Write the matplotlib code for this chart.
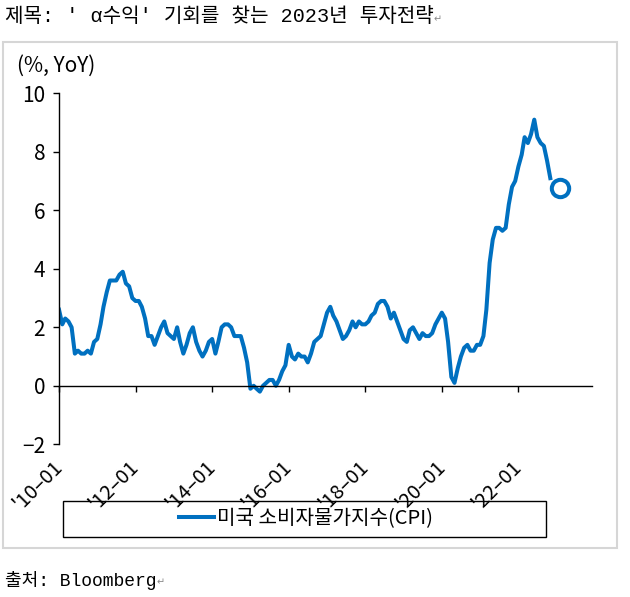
import numpy as np
import pandas as pd
import matplotlib
matplotlib.use("Agg")
import matplotlib.pyplot as plt
import matplotlib.dates as mdates
from matplotlib.patches import Rectangle

# US CPI, % YoY, monthly from 2010-01
start = "2010-01-01"
cpi_yoy = [
    2.6, 2.1, 2.3, 2.2, 2.0, 1.1, 1.2, 1.1, 1.1, 1.2, 1.1, 1.5,   # 2010
    1.6, 2.1, 2.7, 3.2, 3.6, 3.6, 3.6, 3.8, 3.9, 3.5, 3.4, 3.0,   # 2011
    2.9, 2.9, 2.7, 2.3, 1.7, 1.7, 1.4, 1.7, 2.0, 2.2, 1.8, 1.7,   # 2012
    1.6, 2.0, 1.5, 1.1, 1.4, 1.8, 2.0, 1.5, 1.2, 1.0, 1.2, 1.5,   # 2013
    1.6, 1.1, 1.5, 2.0, 2.1, 2.1, 2.0, 1.7, 1.7, 1.7, 1.3, 0.8,   # 2014
    -0.1, 0.0, -0.1, -0.2, 0.0, 0.1, 0.2, 0.2, 0.0, 0.2, 0.5, 0.7,  # 2015
    1.4, 1.0, 0.9, 1.1, 1.0, 1.0, 0.8, 1.1, 1.5, 1.6, 1.7, 2.1,   # 2016
    2.5, 2.7, 2.4, 2.2, 1.9, 1.6, 1.7, 1.9, 2.2, 2.0, 2.2, 2.1,   # 2017
    2.1, 2.2, 2.4, 2.5, 2.8, 2.9, 2.9, 2.7, 2.3, 2.5, 2.2, 1.9,   # 2018
    1.6, 1.5, 1.9, 2.0, 1.8, 1.6, 1.8, 1.7, 1.7, 1.8, 2.1, 2.3,   # 2019
    2.5, 2.3, 1.5, 0.3, 0.1, 0.6, 1.0, 1.3, 1.4, 1.2, 1.2, 1.4,   # 2020
    1.4, 1.7, 2.6, 4.2, 5.0, 5.4, 5.4, 5.3, 5.4, 6.2, 6.8, 7.0,   # 2021
    7.5, 7.9, 8.5, 8.3, 8.6, 9.1, 8.5, 8.3, 8.2, 7.7, 7.1,        # 2022
]
latest_date = "2023-02-01"
latest_value = 6.75

series_label = "미국 소비자물가지수(CPI)"
title = "제목: ' α수익' 기회를 찾는 2023년 투자전략"
source = "출처: Bloomberg"
tick_years = [2010, 2012, 2014, 2016, 2018, 2020, 2022]

sans = ["Noto Sans CJK KR", "DejaVu Sans"]
mono = ["Liberation Mono", "Noto Sans CJK KR", "DejaVu Sans"]
plt.rcParams["font.family"] = sans
blue = "#0070C0"

dates = pd.date_range(start, periods=len(cpi_yoy), freq="MS")

fig = plt.figure(figsize=(6.3, 5.97), dpi=100)
ax = fig.add_axes([0.0937, 0.2558, 0.8455, 0.5879])

ax.plot(dates, cpi_yoy, color=blue, lw=2.9, solid_joinstyle="round")
ax.plot(pd.Timestamp(latest_date), latest_value, "o", ms=12.5, mfc="white",
        mec=blue, mew=2.9)

ax.set_xlim(pd.Timestamp("2010-01-01"), pd.Timestamp("2023-12-01"))
ax.set_ylim(-2, 10)
ax.set_yticks(np.arange(-2, 11, 2))
ax.set_xticks([pd.Timestamp(f"{y}-01-01") for y in tick_years])
ax.xaxis.set_major_formatter(mdates.DateFormatter("'%y–%m"))

for s in ["top", "right"]:
    ax.spines[s].set_visible(False)
ax.spines["bottom"].set_position(("data", 0))
ax.spines["bottom"].set_linewidth(1.0)
ax.spines["left"].set_linewidth(1.0)

ax.tick_params(axis="y", direction="out", length=4, width=1, labelsize=15, pad=6)
ax.tick_params(axis="x", direction="out", length=4, width=1, labelsize=14.5, pad=52)
for lab in ax.get_xticklabels():
    lab.set_rotation(45)
    lab.set_rotation_mode("anchor")
    lab.set_ha("right")
    lab.set_va("center")

fig.text(17 / 630, 1 - 66 / 597, "(%, YoY)", fontsize=15, va="center", ha="left")

# outer frame
fig.patches.append(Rectangle((3 / 630, 1 - 548 / 597), 614 / 630, 506 / 597,
                             transform=fig.transFigure, fill=False,
                             ec="#d6d6d6", lw=1.5))

# legend box
fig.patches.append(Rectangle((63 / 630, 1 - 537 / 597), 483 / 630, 36 / 597,
                             transform=fig.transFigure, fill=False,
                             ec="black", lw=1.0, zorder=0))
ax.legend([series_label], loc="center", bbox_to_anchor=(306 / 630, 1 - 519 / 597),
          bbox_transform=fig.transFigure, frameon=False, fontsize=14.5,
          handlelength=1.7, handletextpad=0.15, borderpad=0)

t = fig.text(5 / 630, 1 - 17 / 597, title, fontsize=14.5, family=mono,
             va="center", ha="left")
ax.annotate("↵", xy=(1, 0.1), xycoords=t, fontsize=7, color="#888888",
            ha="left", va="bottom", family=["DejaVu Sans"])
s = fig.text(5 / 630, 1 - 580 / 597, source, fontsize=13, family=mono,
             va="center", ha="left")
ax.annotate("↵", xy=(1, 0.1), xycoords=s, fontsize=7, color="#888888",
            ha="left", va="bottom", family=["DejaVu Sans"])

fig.savefig("out.png", dpi=100)
